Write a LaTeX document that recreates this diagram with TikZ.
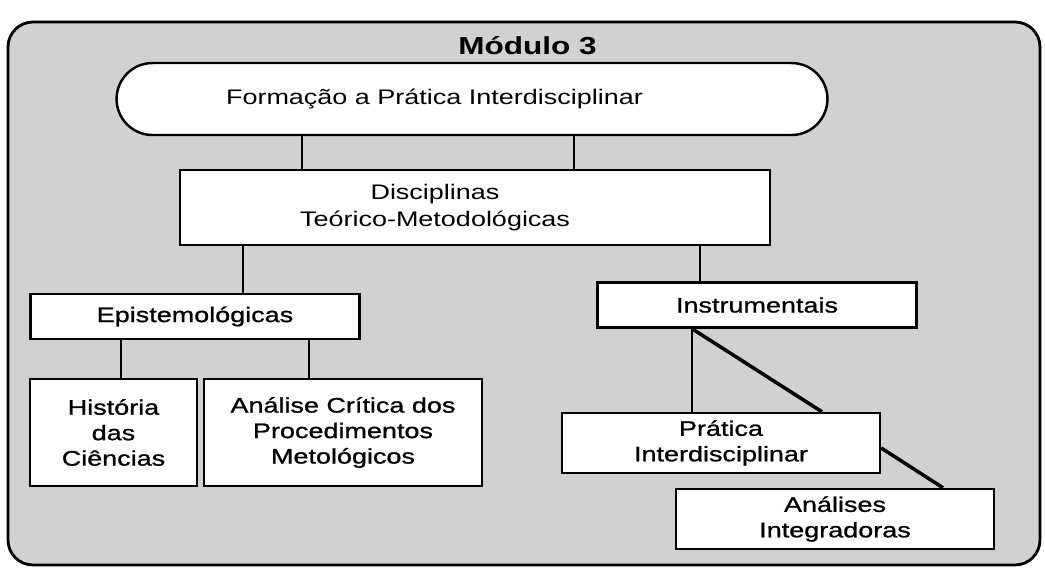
\documentclass[tikz,border=0pt]{standalone}
\usepackage{fontspec}
\setmainfont{Liberation Sans}[FakeStretch=1.28]
\newfontfamily\lowfont{Liberation Sans}[FakeStretch=1.28,FakeBold=1]
\begin{document}
\begin{tikzpicture}[x=0.02cm,y=-0.02cm]
	\tikzset{bx/.style={draw,fill=white,line width=1.4pt,inner sep=0pt,align=center,font=\lowfont\fontsize{12}{14.5}\selectfont},
		tx/.style={align=center,font=\fontsize{12}{15}\selectfont},
		ln/.style={line width=1.1pt},
		dg/.style={line width=2pt}}
	\useasboundingbox(0,0)rectangle(1045,568);
	\draw[line width=1.6pt,fill=black!18,rounded corners=0.5cm](8,22)rectangle(1040,565);
	\node[font=\bfseries\fontsize{14}{16}\selectfont](M)at(527.5,46){Módulo 3};
	\node[bx,minimum width=14.22cm,minimum height=1.44cm,rounded corners=0.72cm,label={[tx,xshift=-0.75cm]center:Formação a Prática Interdisciplinar}](F)at(472,99){};
	\node[bx,minimum width=11.8cm,minimum height=1.5cm,label={[tx,xshift=-0.8cm]center:Disciplinas\\Teórico-Metodológicas}](D)at(475,207.5){};
	\node[bx,minimum width=6.58cm,minimum height=0.9cm](E)at(195,316.5){Epistemológicas};
	\node[bx,minimum width=6.38cm,minimum height=0.9cm](I)at(757,305){Instrumentais};
	\node[bx,minimum width=3.34cm,minimum height=2.14cm](H)at(113.5,432.5){História\\das\\Ciências};
	\node[bx,minimum width=5.56cm,minimum height=2.14cm](A)at(343,432.5){Análise Crítica dos\\Procedimentos\\Metológicos};
	\node[bx,minimum width=6.36cm,minimum height=1.2cm](P)at(721,443){Prática\\Interdisciplinar};
	\node[bx,minimum width=6.36cm,minimum height=1.2cm](AI)at(835,519){Análises\\Integradoras};
	\foreach \x/\y/\o in {
		F/D/-3.4cm,F/D/2.04cm,
		D/E/-4.64cm,D/I/4.5cm,
		E/H/-1.48cm,E/A/2.28cm,
		I/P/-1.3cm}
	\draw[ln]([xshift=\o]\x.south)--([xshift=\o]\x.south|-\y.north);
	\draw[dg]([xshift=-1.3cm]I.south)--([xshift=2.02cm]P.north);
	\draw[dg]([yshift=-0.1cm]P.east)--([xshift=2.16cm]AI.north);
\end{tikzpicture}
\end{document}
